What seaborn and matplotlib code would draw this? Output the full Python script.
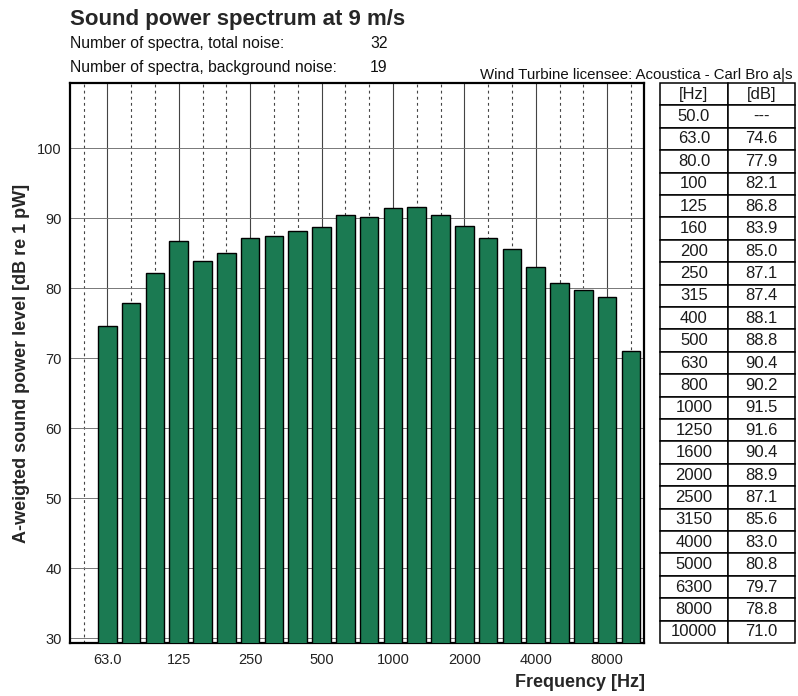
import matplotlib
matplotlib.use("Agg")
import matplotlib.pyplot as plt
import seaborn as sns
import pandas as pd
import numpy as np

sns.set_theme(style="white")
plt.rcParams['font.family'] = ['Liberation Sans', 'DejaVu Sans']

# ---- data ----
freq_labels = ["50.0", "63.0", "80.0", "100", "125", "160", "200", "250", "315", "400",
               "500", "630", "800", "1000", "1250", "1600", "2000", "2500", "3150",
               "4000", "5000", "6300", "8000", "10000"]
levels = [np.nan, 74.6, 77.9, 82.1, 86.8, 83.9, 85.0, 87.1, 87.4, 88.1, 88.8, 90.4,
          90.2, 91.5, 91.6, 90.4, 88.9, 87.1, 85.6, 83.0, 80.8, 79.7, 78.8, 71.0]
table_db = ["---", "74.6", "77.9", "82.1", "86.8", "83.9", "85.0", "87.1", "87.4", "88.1",
            "88.8", "90.4", "90.2", "91.5", "91.6", "90.4", "88.9", "87.1", "85.6",
            "83.0", "80.8", "79.7", "78.8", "71.0"]
octave_labels = ["63.0", "125", "250", "500", "1000", "2000", "4000", "8000"]
y_ticks = [30, 40, 50, 60, 70, 80, 90, 100]

title = "Sound power spectrum at 9 m/s"
sub1 = "Number of spectra, total noise:"
sub2 = "Number of spectra, background noise:"
n_total = "32"
n_bg = "19"
licensee = "Wind Turbine licensee: Acoustica - Carl Bro a|s"

W, H = 798, 696
fig = plt.figure(figsize=(W / 100, H / 100), dpi=100)
ax = fig.add_axes([70 / W, 1 - 643 / H, (644 - 70) / W, (643 - 83) / H])

df = pd.DataFrame({"freq": freq_labels, "level": levels}).dropna()
sns.barplot(data=df, x="freq", y="level", order=freq_labels, color="#1b7a52",
            saturation=1, width=0.78, edgecolor="black", linewidth=1.0, ax=ax, zorder=3)

# vertical lines at each band
for i, lab in enumerate(freq_labels):
    if lab in octave_labels:
        ax.axvline(i, color="#444444", lw=0.8, zorder=1)
    else:
        ax.axvline(i, color="#444444", lw=0.8, ls=(0, (2.5, 3)), zorder=1)
for yv in y_ticks:
    ax.axhline(yv, color="#777777", lw=0.7, zorder=1)

ax.set_xlim(-0.57, 23.55)
ax.set_ylim(29.3, 109.3)
ax.set_yticks(y_ticks)
ax.set_yticklabels([str(v) for v in y_ticks], fontsize=10.5, color="#222222")
ax.set_xticks([freq_labels.index(l) for l in octave_labels])
ax.set_xticklabels(octave_labels, fontsize=10.5, color="#222222")
ax.tick_params(axis="both", length=0)
ax.tick_params(axis="x", pad=7)
ax.tick_params(axis="y", pad=6)
ax.set_xlabel("")
ax.set_ylabel("")
for s in ax.spines.values():
    s.set_visible(True)
    s.set_color("black")
    s.set_linewidth(1.6)

# texts
fig.text(70 / W, 1 - 25 / H, title, fontsize=16, fontweight="bold", va="baseline", ha="left")
fig.text(70 / W, 1 - 48 / H, sub1, fontsize=11.3, va="baseline", ha="left", color="#111111")
fig.text(70 / W, 1 - 72 / H, sub2, fontsize=11.3, va="baseline", ha="left", color="#111111")
fig.text(370 / W, 1 - 48 / H, n_total, fontsize=11.3, va="baseline", ha="left", color="#111111")
fig.text(370 / W, 1 - 72 / H, n_bg, fontsize=11.3, va="baseline", ha="left", color="#111111")
fig.text(793 / W, 1 - 79 / H, licensee, fontsize=10.8, va="baseline", ha="right", color="#111111")
fig.text(22 / W, 1 - 363 / H, "A-weigted sound power level [dB re 1 pW]", fontsize=13,
         fontweight="bold", rotation=90, ha="center", va="center")
fig.text(645 / W, 1 - 687 / H, "Frequency [Hz]", fontsize=13, fontweight="bold",
         ha="right", va="baseline")

# table
tl, tm, tr = 660, 728, 795
tax = fig.add_axes([tl / W, 1 - 643 / H, (tr - tl) / W, (643 - 83) / H])
tax.axis("off")
cells = [["[Hz]", "[dB]"]] + [[f, d] for f, d in zip(freq_labels, table_db)]
tbl = tax.table(cellText=cells, bbox=[0, 0, 1, 1], cellLoc="center",
                colWidths=[(tm - tl) / (tr - tl), (tr - tm) / (tr - tl)])
tbl.auto_set_font_size(False)
for (r, c), cell in tbl.get_celld().items():
    cell.set_fontsize(12)
    cell.set_linewidth(1.1)
    cell.set_edgecolor("black")
    cell.get_text().set_color("#1a1a1a")

fig.savefig("out.png", dpi=100)
